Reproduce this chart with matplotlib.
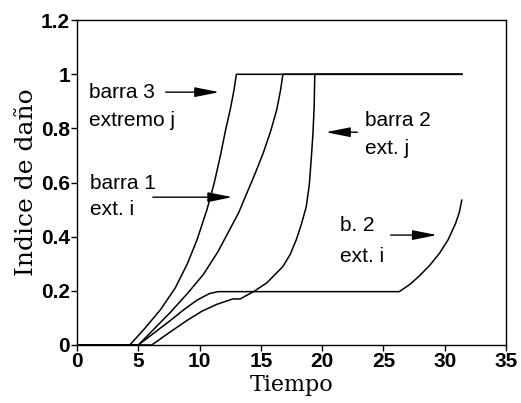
import matplotlib.pyplot as plt

# curvas de daño
barra3_t = [0, 4.3, 5.5, 6.8, 8.0, 9.0, 9.8, 10.6, 11.2, 11.7, 12.1, 12.5, 12.8, 13.0, 31.4]
barra3_d = [0, 0, 0.06, 0.13, 0.21, 0.30, 0.39, 0.50, 0.60, 0.70, 0.79, 0.87, 0.94, 1.0, 1.0]

barra1_t = [0, 5.0, 6.3, 7.6, 9.0, 10.3, 11.5, 12.5, 13.2, 13.8, 14.5, 15.2, 15.8, 16.3, 16.6, 16.8, 31.4]
barra1_d = [0, 0, 0.06, 0.12, 0.19, 0.26, 0.345, 0.43, 0.49, 0.555, 0.63, 0.71, 0.79, 0.87, 0.94, 1.0, 1.0]

barra2j_t = [0, 6.1, 7.5, 8.95, 10.2, 11.4, 12.7, 13.3, 14.4, 15.5, 16.8, 17.4, 17.9, 18.3, 18.7, 18.95, 19.1, 19.25, 19.35, 19.4, 31.4]
barra2j_d = [0, 0, 0.045, 0.09, 0.125, 0.15, 0.17, 0.17, 0.197, 0.23, 0.29, 0.335, 0.39, 0.445, 0.51, 0.59, 0.68, 0.78, 0.88, 1.0, 1.0]

b2i_t = [0, 5.0, 6.3, 7.6, 8.7, 9.8, 10.8, 11.5, 26.3, 27.2, 28.0, 28.8, 29.6, 30.3, 30.9, 31.2, 31.4]
b2i_d = [0, 0, 0.045, 0.09, 0.13, 0.166, 0.19, 0.197, 0.197, 0.225, 0.258, 0.295, 0.34, 0.39, 0.45, 0.49, 0.535]

xticks = [0, 5, 10, 15, 20, 25, 30, 35]
yticks = [0, 0.2, 0.4, 0.6, 0.8, 1.0, 1.2]
ytick_labels = ['0', '0.2', '0.4', '0.6', '0.8', '1', '1.2']

fig = plt.figure(figsize=(5.21, 4.03), dpi=100)
ax = fig.add_axes([0.148, 0.144, 0.823, 0.806])

for t, d in [(barra3_t, barra3_d), (barra1_t, barra1_d), (barra2j_t, barra2j_d), (b2i_t, b2i_d)]:
    ax.plot(t, d, color='black', lw=1.1)

ax.set_xlim(0, 35)
ax.set_ylim(0, 1.2)
ax.set_xticks(xticks)
ax.set_yticks(yticks)
ax.set_yticklabels(ytick_labels)
ax.tick_params(direction='out', length=4, width=1, pad=1, labelsize=15)
for lab in ax.get_xticklabels() + ax.get_yticklabels():
    lab.set_family('Liberation Sans')
    lab.set_weight('bold')
for s in ax.spines.values():
    s.set_linewidth(1)

ax.set_xlabel('Tiempo', family='DejaVu Serif', fontsize=16, labelpad=2)
ax.set_ylabel('Indice de daño', family='DejaVu Serif', fontsize=18, labelpad=2)

txt = dict(family='Liberation Sans', fontsize=15, va='center', ha='left')
arr = dict(arrowstyle='-|>,head_length=1.5,head_width=0.3', color='black', lw=1)

ax.text(0.98, 0.934, 'barra 3', **txt)
ax.text(0.98, 0.83, 'extremo j', **txt)
ax.annotate('', xy=(11.83, 0.934), xytext=(7.0, 0.934), arrowprops=arr)

ax.text(1.06, 0.598, 'barra 1', **txt)
ax.text(1.06, 0.50, 'ext. i', **txt)
ax.annotate('', xy=(12.9, 0.546), xytext=(5.95, 0.546), arrowprops=arr)

ax.text(23.5, 0.83, 'barra 2', **txt)
ax.text(23.5, 0.727, 'ext. j', **txt)
ax.annotate('', xy=(20.07, 0.786), xytext=(23.1, 0.786), arrowprops=arr)

ax.text(21.45, 0.443, 'b. 2', **txt)
ax.text(21.45, 0.325, 'ext. i', **txt)
ax.annotate('', xy=(29.6, 0.406), xytext=(25.37, 0.406), arrowprops=arr)

fig.savefig('out.png', dpi=100)
